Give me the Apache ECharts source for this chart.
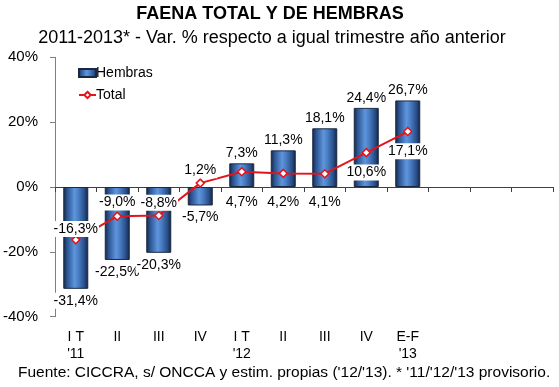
<!DOCTYPE html>
<html>
<head>
<meta charset="utf-8">
<script src="https://cdn.jsdelivr.net/npm/echarts@6/dist/echarts.min.js"></script>
<style>
html,body{margin:0;padding:0;background:#fff;}
#c{width:559px;height:387px;}
</style>
</head>
<body>
<div id="c"></div>
<script>
// ---- data ----
const quarters = ["I T", "II", "III", "IV", "I T", "II", "III", "IV", "E-F", "", "", ""];
const years    = ["'11", "", "", "", "'12", "", "", "", "'13", "", "", ""];
const hembras  = [-31.4, -22.5, -20.3, -5.7, 7.3, 11.3, 18.1, 24.4, 26.7];
const total    = [-16.3, -9.0, -8.8, 1.2, 4.7, 4.2, 4.1, 10.6, 17.1];
const yTicks   = [-40, -20, 0, 20, 40];

// ---- label placement (style, not data) ----
const totalLabelPos  = ['top','top','top','top','bottom','bottom','bottom','bottom','bottom'];
const totalLabelDist = [-2, 1, 0, 0, 18, 16, 16, 7, 7];

const FONT = 'Arial, "Liberation Sans", sans-serif';
const fmt = v => v.toFixed(1).replace('.', ',') + '%';
const categories = quarters.map((q, i) => years[i] ? q + '\n' + years[i] : q);

const barGrad = new echarts.graphic.LinearGradient(0, 0, 1, 0, [
  {offset: 0, color: '#142540'},
  {offset: 0.15, color: '#2b5390'},
  {offset: 0.45, color: '#5e95dc'},
  {offset: 0.6, color: '#4b7fc5'},
  {offset: 0.85, color: '#284d88'},
  {offset: 1, color: '#12223d'}
]);

const hembrasData = hembras.map(v => ({
  value: v,
  label: {position: v < 0 ? 'bottom' : 'top', distance: v < 0 ? 4 : 2}
}));
const totalData = total.map((v, i) => ({
  value: v,
  label: {position: totalLabelPos[i], distance: totalLabelDist[i]}
}));

const chart = echarts.init(document.getElementById('c'), null, {renderer: 'canvas'});
chart.setOption({
  animation: false,
  backgroundColor: '#fff',
  textStyle: {fontFamily: FONT},
  title: [
    {text: 'FAENA TOTAL Y DE HEMBRAS', left: 265, top: 0, textAlign: 'center',
     textStyle: {fontFamily: FONT, fontSize: 18, fontWeight: 'bold', color: '#000'}},
    {text: '2011-2013* - Var. % respecto a igual trimestre año anterior', left: 267, top: 24, textAlign: 'center',
     textStyle: {fontFamily: FONT, fontSize: 18, fontWeight: 'normal', color: '#000'}},
    {text: "Fuente: CICCRA, s/ ONCCA y estim. propias ('12/'13). * '11/'12/'13 provisorio.", left: 13, top: 360,
     textStyle: {fontFamily: FONT, fontSize: 15.5, fontWeight: 'normal', color: '#000'}}
  ],
  legend: {
    orient: 'vertical', left: 73, top: 61, itemWidth: 17, itemHeight: 8, itemGap: 8,
    textStyle: {fontFamily: FONT, fontSize: 14, color: '#000', padding: [0,0,0,-5]},
    data: [{name: 'Hembras', icon: 'rect'}, {name: 'Total'}]
  },
  grid: {left: 55, right: 6, top: 57.3, bottom: 70.3, containLabel: false},
  xAxis: [
    {type: 'category', data: categories, boundaryGap: true,
     axisLine: {onZero: true, lineStyle: {color: '#404040', width: 1}},
     axisTick: {show: true, length: 5, interval: 0, lineStyle: {color: '#404040'}},
     axisLabel: {show: false}, splitLine: {show: false}},
    {type: 'category', data: categories, boundaryGap: true, position: 'bottom',
     axisLine: {show: false, onZero: false}, axisTick: {show: false},
     axisLabel: {show: true, interval: 0, margin: 12, fontFamily: FONT, fontSize: 14, color: '#000', lineHeight: 17},
     splitLine: {show: false}}
  ],
  yAxis: {
    type: 'value', min: yTicks[0], max: yTicks[yTicks.length - 1], interval: 20,
    axisLine: {show: true, lineStyle: {color: '#808080'}},
    axisTick: {show: true, length: 5, lineStyle: {color: '#808080'}},
    axisLabel: {margin: 17, formatter: v => v + '%', fontFamily: FONT, fontSize: 15, color: '#000'},
    splitLine: {show: false}
  },
  series: [
    {name: 'Hembras', type: 'bar', xAxisIndex: 0, data: hembrasData, barWidth: 25,
     itemStyle: {color: barGrad, borderColor: '#1a2940', borderWidth: 1},
     label: {show: true, formatter: p => fmt(p.value), fontFamily: FONT, fontSize: 14, color: '#000',
             backgroundColor: '#fff', padding: [1, 1]}},
    {name: 'Total', type: 'line', xAxisIndex: 0, data: totalData,
     lineStyle: {color: '#e3141b', width: 2}, itemStyle: {color: '#fff', borderColor: '#e3141b', borderWidth: 1.5},
     symbol: 'diamond', symbolSize: 8, showAllSymbol: true,
     label: {show: true, formatter: p => fmt(p.value), fontFamily: FONT, fontSize: 14, color: '#000',
             backgroundColor: '#fff', padding: [1, 1]}}
  ]
});
</script>
</body>
</html>
